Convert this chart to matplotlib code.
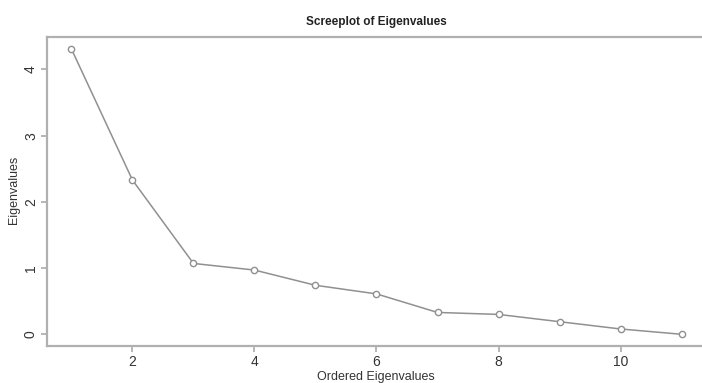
import matplotlib.pyplot as plt

# eigenvalues
order = [1, 2, 3, 4, 5, 6, 7, 8, 9, 10, 11]
eigenvalues = [4.31, 2.33, 1.07, 0.97, 0.74, 0.61, 0.33, 0.30, 0.19, 0.08, 0.0]
xticks = [2, 4, 6, 8, 10]
yticks = [0, 1, 2, 3, 4]

plt.rcParams['font.family'] = ['Liberation Sans', 'DejaVu Sans']

fig = plt.figure(figsize=(7.02, 3.83), dpi=100)
ax = fig.add_axes([47/702, 1-346/383, (706-47)/702, (346-37)/383])

ax.plot(order, eigenvalues, color='#909090', lw=1.1, marker='o', ms=4.5,
        mfc='white', mec='#909090', mew=1.0)

ax.set_xlim(0.6, 11.4)
ax.set_ylim(-0.177, 4.49)
ax.set_xticks(xticks)
ax.set_yticks(yticks)
ax.set_yticklabels([str(v) for v in yticks], rotation=90, va='center')
ax.tick_params(axis='both', length=4.5, width=1.2, color='#aaaaaa',
               labelsize=10, labelcolor='#333333', pad=2)

for s in ax.spines.values():
    s.set_color('#b0b0b0')
    s.set_linewidth(1.6)

ax.set_title('Screeplot of Eigenvalues', fontsize=8.5, fontweight='bold',
             color='#222222', pad=9)
fig.text(376/702, 1-377/383, 'Ordered Eigenvalues', fontsize=9,
         color='#333333', ha='center', va='center')
fig.text(14/702, 1-190/383, 'Eigenvalues', fontsize=9, color='#333333',
         ha='center', va='center', rotation=90)

fig.savefig('out.png', dpi=100)
